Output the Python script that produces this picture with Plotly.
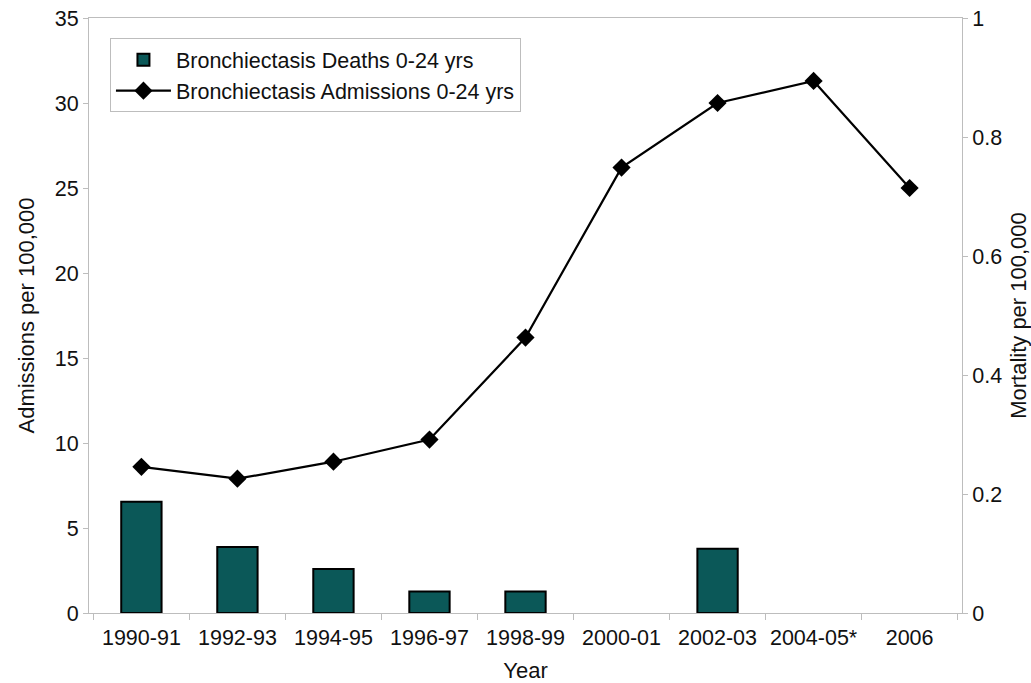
import plotly.graph_objects as go

years = ["1990-91", "1992-93", "1994-95", "1996-97", "1998-99", "2000-01", "2002-03", "2004-05*", "2006"]
deaths = [0.187, 0.111, 0.074, 0.036, 0.036, 0, 0.108, 0, 0]
admissions = [8.6, 7.9, 8.9, 10.2, 16.2, 26.2, 30.0, 31.3, 25.0]

axis_col = "#BDBDBD"
FAM = "Liberation Sans, Arial, sans-serif"
TXT = "#111111"
font = dict(family=FAM, size=21, color=TXT)
tickfont = dict(family=FAM, size=21.5, color=TXT)
titlefont = dict(family=FAM, size=22, color=TXT)

fig = go.Figure()
fig.add_trace(go.Bar(
    x=years, y=deaths, name="Bronchiectasis Deaths 0-24 yrs",
    marker=dict(color="#0B5858",
                line=dict(color="#000000", width=[2 if v > 0 else 0 for v in deaths])),
    width=0.42, yaxis="y", legendgroup="a",
))
fig.add_trace(go.Scatter(
    x=years, y=admissions, name="Bronchiectasis Admissions 0-24 yrs",
    mode="lines+markers", yaxis="y2", legendgroup="b",
    line=dict(color="#000000", width=2.2),
    marker=dict(symbol="diamond", size=14, color="#000000"),
))

fig.update_layout(
    width=1031, height=683,
    margin=dict(l=89, r=69, t=18, b=70),
    paper_bgcolor="white", plot_bgcolor="white",
    font=font,
    showlegend=True,
    legend=dict(x=0.024, y=0.966, xanchor="left", yanchor="top",
                bordercolor=axis_col, borderwidth=1, bgcolor="white",
                font=dict(family=FAM, size=21.5, color=TXT), traceorder="normal",
                tracegroupgap=9, itemwidth=55),
    xaxis=dict(
        type="category", automargin=False, tickfont=tickfont, tickangle=0,
        title=dict(text="Year", standoff=18, font=titlefont),
        showline=True, linecolor=axis_col, linewidth=1, mirror=True,
        ticks="outside", tickson="boundaries", ticklen=6, tickcolor=axis_col,
        ticklabelstandoff=5,
        showgrid=False,
    ),
    yaxis=dict(
        automargin=False, tickfont=tickfont,
        title=dict(text="Mortality per 100,000", standoff=9, font=titlefont),
        side="right", range=[0, 1], dtick=0.2,
        showline=True, linecolor=axis_col, linewidth=1,
        ticks="outside", ticklen=5, tickcolor=axis_col,
        showgrid=False, zeroline=False,
    ),
    yaxis2=dict(
        automargin=False, tickfont=tickfont,
        title=dict(text="Admissions per 100,000", standoff=14, font=titlefont),
        side="left", overlaying="y", range=[0, 35], dtick=5,
        showline=True, linecolor=axis_col, linewidth=1,
        ticks="outside", ticklen=5, tickcolor=axis_col,
        showgrid=False, zeroline=False,
    ),
)

fig.write_html("out.html", config={"displayModeBar": False},
               post_script="document.body.style.margin='0';")
